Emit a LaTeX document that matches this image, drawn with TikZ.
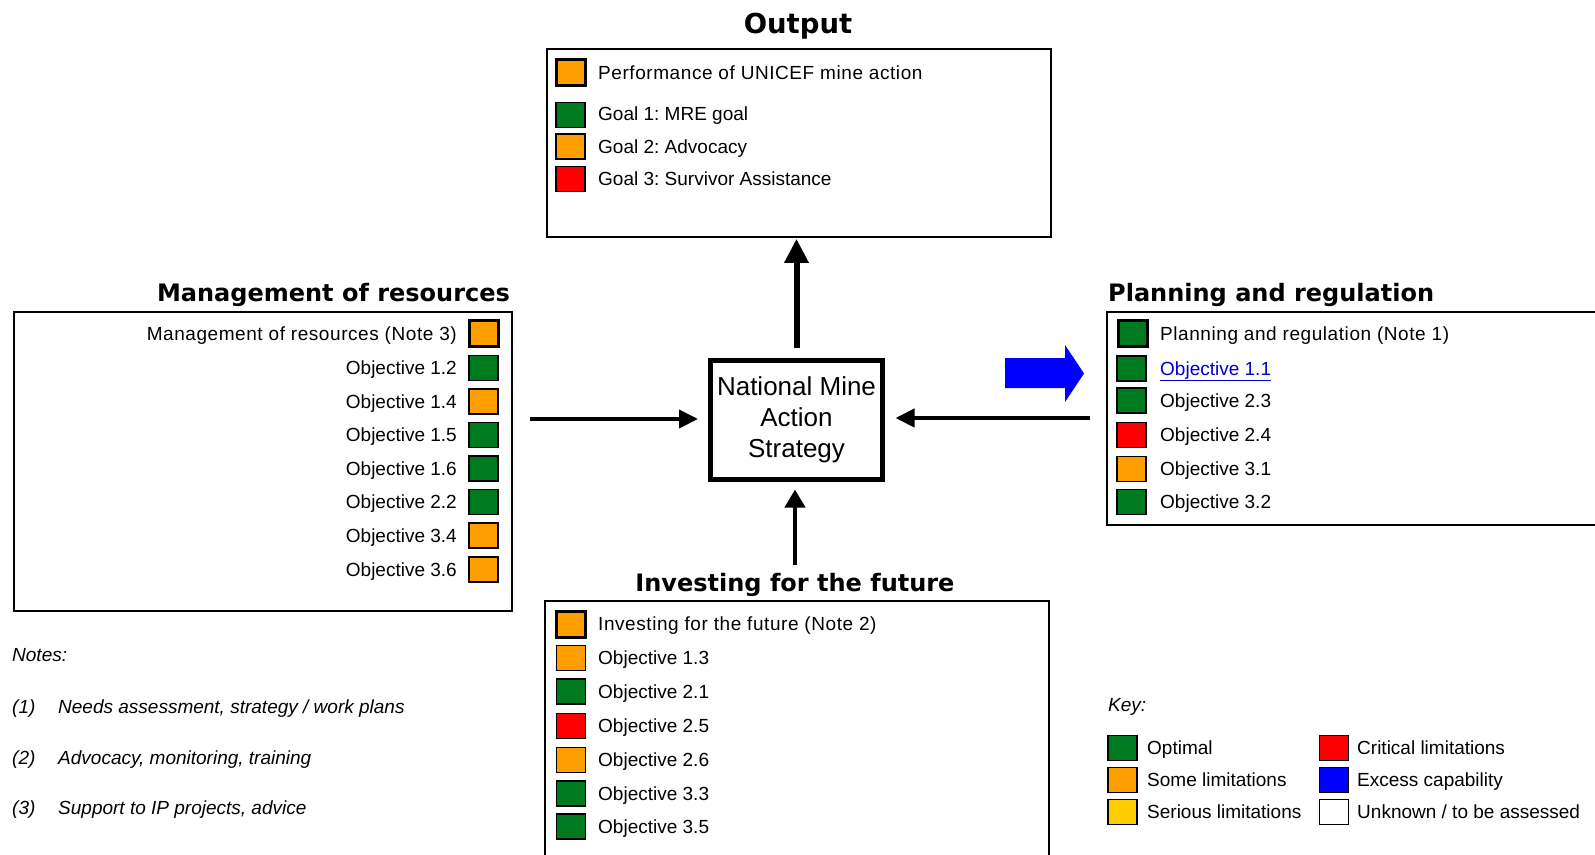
\documentclass[tikz,border=0pt]{standalone}
\usepackage{fontspec}
\setmainfont{Liberation Sans}
\newfontfamily\titlefont{DejaVu Sans}
\usetikzlibrary{arrows.meta}
\definecolor{okgreen}{RGB}{0,122,31}
\definecolor{someorange}{RGB}{255,158,0}
\definecolor{seriousyellow}{RGB}{255,204,0}
\definecolor{critred}{RGB}{255,0,0}
\definecolor{excessblue}{RGB}{0,0,255}
\definecolor{linkblue}{RGB}{0,0,204}
\frenchspacing
\begin{document}
\begin{tikzpicture}[x=1pt,y=-1pt,
  sq/.style={draw=black, line width=1.2pt, minimum width=29pt, minimum height=25pt, inner sep=0pt},
  hsq/.style={sq, line width=3pt, minimum width=29pt, minimum height=26pt},
  txt/.style={font=\fontsize{19}{22}\selectfont, inner sep=0pt, text height=13.6pt, text depth=0pt},
  wtxt/.style={txt, font=\fontsize{19}{22}\selectfont\addfontfeatures{LetterSpace=3}},
  itxt/.style={txt, font=\fontsize{19}{22}\selectfont\itshape},
  ttl/.style={font=\titlefont\bfseries\fontsize{24}{28}\selectfont, inner sep=0pt, text height=17.5pt, text depth=0pt},
  panel/.style={draw=black, line width=1.6pt, inner sep=0pt},
  arr/.style={draw=black, line width=4pt, -{Triangle[width=18pt,length=19pt]}}
]
\clip (0,0) rectangle (1595,854);
\fill[white] (0,0) rectangle (1595,854);

% ---------- Output ----------
\node[ttl, font=\titlefont\bfseries\fontsize{27.5}{30}\selectfont, text height=20pt] (outT) at (798,23) {Output};
\node[panel, minimum width=504pt, minimum height=188pt] (outB) at (799,143) {};
\node[hsq, fill=someorange] (o0) at (571,72.5) {};
\node[wtxt, anchor=west] (o0t) at (598,72.5) {Performance of UNICEF mine action};
\node[sq, fill=okgreen] (o1) at (570.5,115) {};
\node[txt, anchor=west] (o1t) at (598,114) {Goal 1: MRE goal};
\node[sq, fill=someorange] (o2) at (570.5,146.5) {};
\node[txt, anchor=west] (o2t) at (598,146.5) {Goal 2: Advocacy};
\node[sq, fill=critred] (o3) at (570.5,179) {};
\node[txt, anchor=west] (o3t) at (598,179) {Goal 3: Survivor Assistance};

% ---------- Management of resources ----------
\node[ttl] (mT) at (333.5,293) {Management of resources};
\node[panel, minimum width=498pt, minimum height=299pt] (mB) at (263,461.5) {};
\node[hsq, fill=someorange] (m0) at (484,333.5) {};
\node[wtxt, anchor=east] (m0t) at (457,333.5) {Management of resources (Note 3)};
\foreach \lab/\col/\yy [count=\i] in {1.2/okgreen/368, 1.4/someorange/401.5, 1.5/okgreen/435, 1.6/okgreen/468.5, 2.2/okgreen/502, 3.4/someorange/535.5, 3.6/someorange/569.5}{
  \node[sq, fill=\col] (m\i) at (483.5,\yy) {};
  \node[txt, anchor=east] (m\i t) at (457,\yy) {Objective \lab};
}

% ---------- Planning and regulation ----------
\node[ttl, anchor=west] (pT) at (1108,293) {Planning and regulation};
\node[panel, minimum width=513pt, minimum height=213pt] (pB) at (1363.5,418.5) {};
\node[hsq, fill=okgreen] (p0) at (1132.5,333.5) {};
\node[wtxt, anchor=west] (p0t) at (1160,333.5) {Planning and regulation (Note 1)};
\node[sq, fill=okgreen] (p1) at (1131.5,368.5) {};
\node[txt, anchor=west, text=linkblue] (p1t) at (1160,368.5) {\underline{Objective 1.1}};
\foreach \lab/\col/\yy [count=\i from 2] in {2.3/okgreen/400.5, 2.4/critred/435, 3.1/someorange/469, 3.2/okgreen/502}{
  \node[sq, fill=\col] (p\i) at (1131.5,\yy) {};
  \node[txt, anchor=west] (p\i t) at (1160,\yy) {Objective \lab};
}

% ---------- Investing for the future ----------
\node[ttl] (iT) at (795,583) {Investing for the future};
\node[panel, minimum width=504pt, minimum height=279pt] (iB) at (797,740.5) {};
\node[hsq, fill=someorange] (i0) at (571,624) {};
\node[wtxt, anchor=west] (i0t) at (598,624) {Investing for the future (Note 2)};
\foreach \lab/\col/\yy [count=\i] in {1.3/someorange/658, 2.1/okgreen/691.5, 2.5/critred/726, 2.6/someorange/760, 3.3/okgreen/793.5, 3.5/okgreen/826.5}{
  \node[sq, fill=\col] (i\i) at (571,\yy) {};
  \node[txt, anchor=west] (i\i t) at (598,\yy) {Objective \lab};
}

% ---------- Centre ----------
\node[draw=black, line width=5pt, minimum width=172pt, minimum height=119pt, inner sep=0pt,
      align=center, font=\fontsize{26}{31}\selectfont] (nmas) at (796.5,420) {National Mine\\Action\\Strategy};

\coordinate (lin) at (530,419);
\coordinate (rin) at (1090,418);
\coordinate (bin) at (795,565);
\draw[draw=black, line width=6pt, -{Triangle[width=23pt,length=24pt]}, shorten <=10pt, shorten >=1pt]
  (nmas.north) -- (nmas.north |- outB.south);
\draw[arr, shorten >=10pt] (lin) -- (nmas.west |- lin);
\draw[arr, shorten >=10.5pt] (rin) -- (nmas.east |- rin);
\draw[arr, -{Triangle[width=20pt,length=18pt]}, shorten >=7.5pt] (bin) -- (nmas.south -| bin);

% blue block arrow
\fill[excessblue] (1005,358) -- (1065,358) -- (1065,345) -- (1084,373.5) -- (1065,402) -- (1065,388) -- (1005,388) -- cycle;

% ---------- Notes ----------
\node[itxt, anchor=west] (nT) at (12,655) {Notes:};
\node[itxt, anchor=west] (n1) at (12,707) {(1)};
\node[itxt, anchor=west] (n1t) at (58,707) {Needs assessment, strategy / work plans};
\node[itxt, anchor=west] (n2) at (12,758) {(2)};
\node[itxt, anchor=west] (n2t) at (58,758) {Advocacy, monitoring, training};
\node[itxt, anchor=west] (n3) at (12,808) {(3)};
\node[itxt, anchor=west] (n3t) at (58,808) {Support to IP projects, advice};

% ---------- Key ----------
\node[itxt, anchor=west] (kT) at (1108,705) {Key:};
\node[sq, fill=okgreen] (k1) at (1122.5,748) {};
\node[txt, anchor=west] (k1t) at (1147,748) {Optimal};
\node[sq, fill=someorange] (k2) at (1122.5,780) {};
\node[txt, anchor=west] (k2t) at (1147,780) {Some limitations};
\node[sq, fill=seriousyellow] (k3) at (1122.5,812) {};
\node[txt, anchor=west] (k3t) at (1147,812) {Serious limitations};
\node[sq, fill=critred] (k4) at (1334,748) {};
\node[txt, anchor=west] (k4t) at (1357,748) {Critical limitations};
\node[sq, fill=excessblue] (k5) at (1334,780) {};
\node[txt, anchor=west] (k5t) at (1357,780) {Excess capability};
\node[sq, fill=white] (k6) at (1334,812) {};
\node[txt, anchor=west] (k6t) at (1357,812) {Unknown / to be assessed};
\end{tikzpicture}
\end{document}
